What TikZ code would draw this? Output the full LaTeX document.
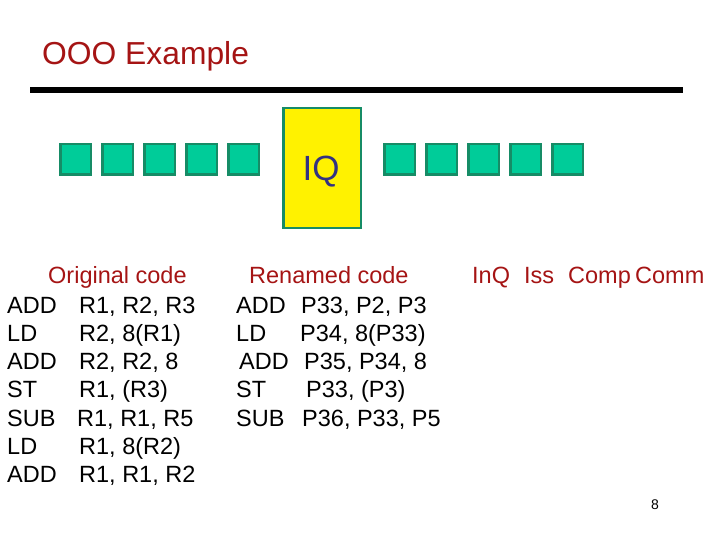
\documentclass[tikz,border=0pt]{standalone}
\usepackage{fontspec}
\setmainfont{Liberation Sans}
\usepackage{xcolor}
\usetikzlibrary{positioning}
\definecolor{titlered}{RGB}{165,20,20}
\definecolor{slotgreen}{RGB}{0,204,153}
\definecolor{slotedge}{RGB}{22,140,102}
\definecolor{iqblue}{RGB}{50,50,130}

\tikzset{
  slot/.style={draw=slotedge, fill=slotgreen, line width=2.5bp, minimum width=30.5bp, minimum height=30.5bp, inner sep=0pt},
  iqbox/.style={draw=slotedge, fill=yellow, line width=2.5bp, minimum width=77.5bp, minimum height=119.5bp, inner sep=0pt},
  codetxt/.style={anchor=base west, inner sep=0pt, font=\fontsize{23.5bp}{28bp}\selectfont},
  headtxt/.style={codetxt, text=titlered}
}

\begin{document}
\begin{tikzpicture}[x=1bp, y=-1bp]
    \useasboundingbox (0,0) rectangle (720,540);

    % title and rule
    \node[anchor=base west, inner sep=0pt, text=titlered, font=\fontsize{31.8bp}{36bp}\selectfont] (title) at (42,65) {OOO Example};
    \draw[line width=6bp] (30,90.5) -- (683,90.5);

    % queue slots and the IQ
    \node[iqbox] (iq) at (322,168) {};
    \node[anchor=base, inner sep=0pt, text=iqblue, font=\fontsize{35bp}{40bp}\selectfont] (iqlabel) at (321,181) {IQ};
    \foreach \i in {1,...,5} {
        \node[slot] (lslot\i) at ({75.5+42*(\i-1)},159.5) {};
        \node[slot] (rslot\i) at ({399.5+42*(\i-1)},159.5) {};
    }

    % headers
    \node[headtxt] (orighead) at (48,284) {Original code};
    \node[headtxt] (renhead) at (249,284) {Renamed code};
    \node[headtxt] (inq) at (472,284) {InQ};
    \node[headtxt] (iss) at (524,284) {Iss};
    \node[headtxt] (comp) at (568,284) {Comp};
    \node[headtxt] (comm) at (635,284) {Comm};

    % original code
    \foreach \op/\arg/\ax [count=\i] in {ADD/{R1, R2, R3}/79, LD/{R2, 8(R1)}/79, ADD/{R2, R2, 8}/79,
        ST/{R1, (R3)}/79, SUB/{R1, R1, R5}/77, LD/{R1, 8(R2)}/79, ADD/{R1, R1, R2}/79} {
        \node[codetxt] (origop\i) at (7,{313+28.33*(\i-1)}) {\op};
        \node[codetxt] (origarg\i) at (\ax,{313+28.33*(\i-1)}) {\arg};
    }

    % renamed code
    \foreach \op/\ox/\arg/\ax [count=\i] in {ADD/236/{P33, P2, P3}/301, LD/236/{P34, 8(P33)}/300,
        ADD/239/{P35, P34, 8}/304, ST/236/{P33, (P3)}/306, SUB/236/{P36, P33, P5}/302} {
        \node[codetxt] (renop\i) at (\ox,{313+28.33*(\i-1)}) {\op};
        \node[codetxt] (renarg\i) at (\ax,{313+28.33*(\i-1)}) {\arg};
    }

    % slide number
    \node[anchor=base west, inner sep=0pt, font=\fontsize{14bp}{16bp}\selectfont] (pagenum) at (651,509) {8};
\end{tikzpicture}
\end{document}
